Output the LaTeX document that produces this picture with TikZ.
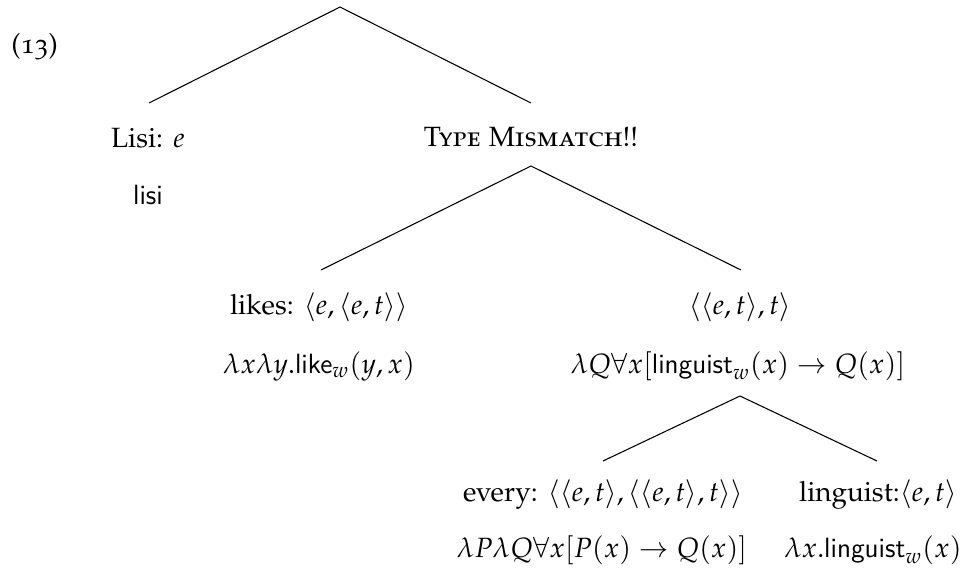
\documentclass[tikz,border=0pt]{standalone}
\usepackage[T1]{fontenc}
\usepackage[sc,osf]{mathpazo}
% sans serif for denotations (Latin Modern Sans)
\newcommand\ssf[1]{\mbox{\fontencoding{TU}\fontfamily{lmss}\selectfont #1}}
\begin{document}
\begin{tikzpicture}[x=0.42pt,y=-0.42pt,
  lbl/.style={anchor=base,inner sep=0pt,font=\fontsize{11.7}{14}\selectfont},
  edge/.style={line width=0.45pt,black}]
\useasboundingbox (0,0) rectangle (976,576);

% example number
\node[lbl,anchor=base west] (num) at (11,53) {(13)};

% tree nodes: label line and denotation line
\node[lbl] (lisi)   at (148,147) {Lisi: $e$};
\node[lbl] (lisiD)  at (148,204) {\ssf{lisi}};
\node[lbl] (tm)     at (531,146) {\textsc{Type Mismatch!!}};
\node[lbl] (likes)  at (319,314) {likes: $\langle e,\langle e,t\rangle\rangle$};
\node[lbl] (likesD) at (319,373) {$\lambda x\lambda y.\ssf{like}_w(y,x)$};
\node[lbl] (dp)     at (740,314) {$\langle\langle e,t\rangle,t\rangle$};
\node[lbl] (dpD)    at (738,373) {$\lambda Q\forall x[\ssf{linguist}_w(x)\rightarrow Q(x)]$};
\node[lbl] (every)  at (603,501) {every: $\langle\langle e,t\rangle,\langle\langle e,t\rangle,t\rangle\rangle$};
\node[lbl] (everyD) at (602,557) {$\lambda P\lambda Q\forall x[P(x)\rightarrow Q(x)]$};
\node[lbl] (ling)   at (878,501) {linguist:$\langle e,t\rangle$};
\node[lbl] (lingD)  at (873,557) {$\lambda x.\ssf{linguist}_w(x)$};

% branch points
\coordinate (root)   at (340,7);
\coordinate (lisiT)  at (149,103);
\coordinate (tmT)    at (531,103);
\coordinate (tmB)    at (531,166);
\coordinate (likesT) at (321,270);
\coordinate (dpT)    at (741,270);
\coordinate (dpB)    at (740,396);
\coordinate (everyT) at (603,461);
\coordinate (lingT)  at (877,461);

\draw[edge] (lisiT) -- (root) -- (tmT);
\draw[edge] (likesT) -- (tmB) -- (dpT);
\draw[edge] (everyT) -- (dpB) -- (lingT);
\end{tikzpicture}
\end{document}
